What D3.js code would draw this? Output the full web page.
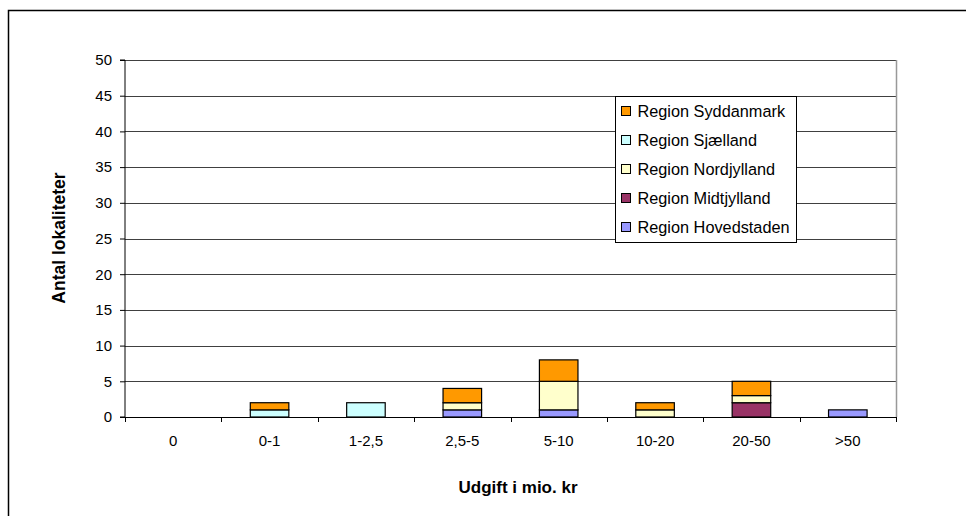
<!DOCTYPE html>
<html><head><meta charset="utf-8">
<script src="https://cdn.jsdelivr.net/npm/d3@7"></script>
<style>body{margin:0;background:#fff;} svg{display:block;font-family:"Liberation Sans",Arial,sans-serif;}</style>
</head><body>
<svg id="c" width="966" height="516"></svg>
<script>
const categories = ["0","0-1","1-2,5","2,5-5","5-10","10-20","20-50",">50"];
const seriesNames = ["Region Hovedstaden","Region Midtjylland","Region Nordjylland","Region Sjælland","Region Syddanmark"];
const hovedstaden = [0,0,0,1,1,0,0,1];
const midtjylland = [0,0,0,0,0,0,2,0];
const nordjylland = [0,0,0,1,4,1,1,0];
const sjaelland   = [0,1,2,0,0,0,0,0];
const syddanmark  = [0,1,0,2,3,1,2,0];
const colors = ["#9999FF","#993366","#FFFFCC","#CCFFFF","#FF9900"];
const yTicks = [0,5,10,15,20,25,30,35,40,45,50];

const svg = d3.select("#c");
// outer frame
svg.append("path").attr("d","M8.5,516 L8.5,10.5 L966,10.5").attr("fill","none").attr("stroke","#000").attr("stroke-width",1.5);

const L=125,R=896,T=60,B=417;
const xb = d3.scaleBand().domain(categories).range([L,R]);
const y = d3.scaleLinear().domain([0,50]).range([B,T]);

// gridlines
svg.append("g").selectAll("line").data(yTicks.filter(d=>d>0)).join("line")
  .attr("x1",L).attr("x2",R).attr("y1",d=>Math.round(y(d))+0.5).attr("y2",d=>Math.round(y(d))+0.5)
  .attr("stroke","#404040").attr("stroke-width",1);
// right border of plot
svg.append("line").attr("x1",R+0.5).attr("x2",R+0.5).attr("y1",T).attr("y2",B).attr("stroke","#999").attr("stroke-width",1.5);

// stacked data
const seriesVals = [hovedstaden,midtjylland,nordjylland,sjaelland,syddanmark];
const rows = categories.map((c,i)=>{const o={cat:c}; seriesNames.forEach((s,j)=>o[s]=seriesVals[j][i]); return o;});
const stacked = d3.stack().keys(seriesNames)(rows);
svg.append("g").selectAll("g").data(stacked).join("g").attr("fill",(d,i)=>colors[i])
  .selectAll("rect").data(d=>d.filter(p=>p[1]-p[0]>0)).join("rect")
  .attr("x",d=>xb(d.data.cat)+xb.bandwidth()*0.3).attr("width",xb.bandwidth()*0.4)
  .attr("y",d=>y(d[1])).attr("height",d=>y(d[0])-y(d[1]))
  .attr("stroke","#000").attr("stroke-width",1.2);

// y axis
const ya = svg.append("g").attr("transform",`translate(${L},0)`)
  .call(d3.axisLeft(y).tickValues(yTicks).tickSize(5).tickPadding(8));
ya.select(".domain").attr("stroke","#000").attr("d",`M-5,${B}H0V${T}H-5`);
ya.selectAll("text").attr("font-size",15).attr("fill","#000").attr("font-family","Liberation Sans, Arial, sans-serif");
ya.selectAll(".tick line").attr("stroke","#000");

// x axis
const xa = svg.append("g").attr("transform",`translate(0,${B})`);
xa.append("line").attr("x1",L).attr("x2",R).attr("y1",0.5).attr("y2",0.5).attr("stroke","#000").attr("stroke-width",1.2);
xa.selectAll("line.tk").data(d3.range(categories.length+1)).join("line").attr("class","tk")
  .attr("x1",i=>Math.round(L+i*xb.step())+0.5).attr("x2",i=>Math.round(L+i*xb.step())+0.5)
  .attr("y1",0).attr("y2",5).attr("stroke","#000");
xa.selectAll("text").data(categories).join("text")
  .attr("x",d=>xb(d)+xb.bandwidth()/2).attr("y",29).attr("text-anchor","middle")
  .attr("font-size",15).text(d=>d);

// axis titles
svg.append("text").attr("transform",`translate(65,238) rotate(-90)`).attr("text-anchor","middle")
  .attr("font-size",17.5).attr("font-weight","bold").text("Antal lokaliteter");
svg.append("text").attr("x",518).attr("y",493).attr("text-anchor","middle")
  .attr("font-size",17).attr("font-weight","bold").text("Udgift i mio. kr");

// legend
const lg = svg.append("g").attr("transform","translate(615.5,96.5)");
lg.append("rect").attr("width",181).attr("height",146).attr("fill","#fff").attr("stroke","#000");
const legendOrder = [4,3,2,1,0];
legendOrder.forEach((si,k)=>{
  const cy = 15 + k*29;
  lg.append("rect").attr("x",6).attr("y",cy-5).attr("width",9).attr("height",9).attr("fill",colors[si]).attr("stroke","#000");
  lg.append("text").attr("x",22).attr("y",cy+5.5).attr("font-size",16.3).text(seriesNames[si]);
});
</script>
</body></html>
